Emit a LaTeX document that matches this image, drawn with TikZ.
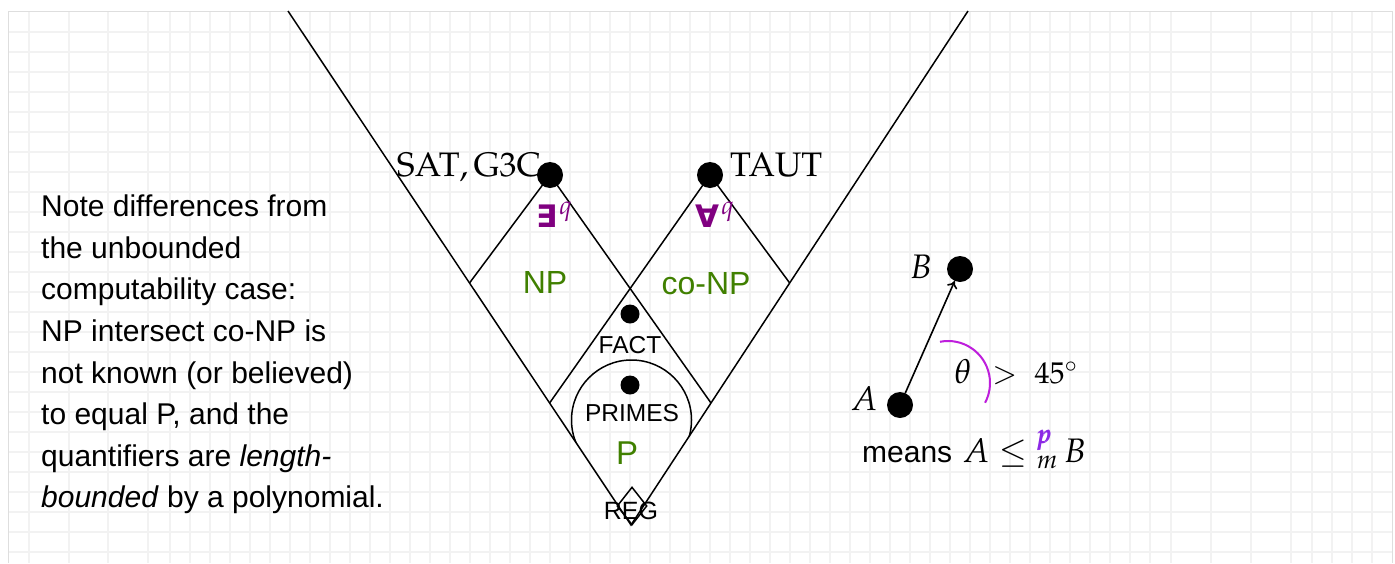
\documentclass[tikz,border=0pt]{standalone}
\usepackage{amsmath}
\usepackage{mathpazo}
\usepackage[no-math]{fontspec}
\newfontfamily\sansfont{Liberation Sans}
\newfontfamily\symbfont{DejaVu Sans}
\usetikzlibrary{arrows.meta,shapes.geometric}

\definecolor{npgreen}{RGB}{64,128,0}
\definecolor{qpurple}{RGB}{128,0,128}
\definecolor{arcmag}{RGB}{190,30,220}
\definecolor{pviolet}{RGB}{140,40,230}
\definecolor{gridgray}{RGB}{242,242,242}
\definecolor{framegray}{RGB}{222,222,222}

\tikzset{
  gridline/.style={draw=gridgray, line width=1.8pt},
  edge/.style={draw=black, line width=1.5pt},
  bigdot/.style={circle, fill=black, inner sep=0pt, minimum size=26pt},
  smalldot/.style={circle, fill=black, inner sep=0pt, minimum size=19pt},
  sanslabel/.style={inner sep=0pt, font=\sansfont\fontsize{24.5}{24.5}\selectfont},
  classlabel/.style={inner sep=0pt, text=npgreen, font=\sansfont\fontsize{32}{32}\selectfont},
  mathlabel/.style={inner sep=0pt, font=\fontsize{34}{34}\selectfont},
  problabel/.style={inner sep=0pt, font=\fontsize{34}{34}\selectfont},
  quantlabel/.style={inner sep=0pt, text=qpurple, anchor=base west},
  notetext/.style={inner sep=0pt, anchor=base west, font=\sansfont\fontsize{30}{34}\selectfont},
}
\newcommand{\quant}[1]{{\symbfont\bfseries\fontsize{31}{31}\selectfont #1}\hspace{2pt}\raisebox{13pt}{\fontsize{26}{26}\selectfont$q$}}

\begin{document}
\begin{tikzpicture}[x=1pt, y=-1pt]
\useasboundingbox (0,0) rectangle (1395,563);
\fill[white] (0,0) rectangle (1395,563);

% faint squared paper
\foreach \x in {29,69,108,148,170,190,...,1150,1171,1211,1251,1291,1312,1332,1352,1372}
  \draw[gridline] (\x,11) -- (\x,563);
\foreach \y in {32,52,...,552}
  \draw[gridline] (8,\y) -- (1392,\y);
\draw[framegray, line width=1pt] (8,563) -- (8,11) -- (1392,11) -- (1392,563);

% outer V
\coordinate (VLtop) at (288,11);
\coordinate (VRtop) at (968,11);
\coordinate (Vbot)  at (631,525);
\draw[edge] (VLtop) -- (Vbot) -- (VRtop);

% corners of the NP and co-NP cones on the V
\coordinate (L1) at (469.5,283);
\coordinate (R1) at (789.7,283);
\coordinate (L2) at (549.6,403);
\coordinate (R2) at (711,403);

% complete problems
\node[problabel, anchor=base east] (satlbl) at (541,176) {$\mathrm{SAT},\mathrm{G3C}$};
\node[problabel, anchor=base west] (tautlbl) at (730,176) {$\mathrm{TAUT}$};
\node[bigdot] (SAT) at (550,175) {};
\node[bigdot] (TAUT) at (710,175) {};
\draw[edge] (L1) -- (SAT.center) -- (R2);
\draw[edge] (L2) -- (TAUT.center) -- (R1);

% quantifiers
\node[quantlabel] (exq) at (536,227) {\quant{∃}};
\node[quantlabel] (faq) at (695,227) {\quant{∀}};

% class names
\node[classlabel, anchor=base] (np) at (545,293) {NP};
\node[classlabel, anchor=base] (conp) at (706,294) {co-NP};
\node[classlabel, anchor=base, font=\sansfont\fontsize{33}{33}\selectfont] (p) at (627,464) {P};

% intersection and P
\node[smalldot] (FACT) at (630,314) {};
\node[sanslabel, anchor=base] (factlbl) at (630,353) {FACT};
\node[smalldot] (PRIMES) at (630,385) {};
\node[sanslabel, anchor=base] (primeslbl) at (632,421) {PRIMES};
\begin{scope}
  \clip (VLtop) -- (Vbot) -- (VRtop) -- cycle;
  \clip (0,0) rectangle (1395,448);
  \draw[edge] (631.5,420) circle[radius=60];
\end{scope}

% regular languages
\node[diamond, draw, line width=1.5pt, inner sep=0pt, minimum width=30pt, minimum height=38pt] (REGbox) at (632,506) {};
\node[sanslabel, anchor=base, font=\sansfont\fontsize{25}{25}\selectfont] (reg) at (631,519) {REG};

% reduction legend
\node[mathlabel, anchor=base] (Blbl) at (921,278) {$B$};
\node[mathlabel, anchor=base] (Albl) at (864,410) {$A$};
\node[bigdot] (B) at (960,269) {};
\node[bigdot] (A) at (900,405) {};
\draw[line width=1.6pt, -{To[length=7pt,width=11pt]}] (A) -- (B);
\draw[arcmag, line width=2pt] (948,383) ++(-101:42) arc[start angle=-101, end angle=28, radius=42];
\node[mathlabel, anchor=base] (theta) at (963,383) {$\theta$};
\node[mathlabel, anchor=base west, font=\fontsize{30}{30}\selectfont] (gt) at (992,383) {$>\ 45^{\circ}$};
\node[mathlabel, anchor=base west] (means) at (862,462)
  {{\sansfont\fontsize{30}{34}\selectfont means} $A\leq{}^{\textcolor{pviolet}{\pmb{p}}}_{m}\,B$};

% side note
\foreach \t [count=\i] in {
  {Note differences from},
  {the unbounded},
  {computability case:},
  {NP intersect co-NP is},
  {not known (or believed)},
  {to equal P, and the},
  {quantifiers are \textit{length-}},
  {\textit{bounded} by a polynomial.}}
  \node[notetext] (note\i) at (41,{216.7+41.6*(\i-1)}) {\t};
\end{tikzpicture}
\end{document}
